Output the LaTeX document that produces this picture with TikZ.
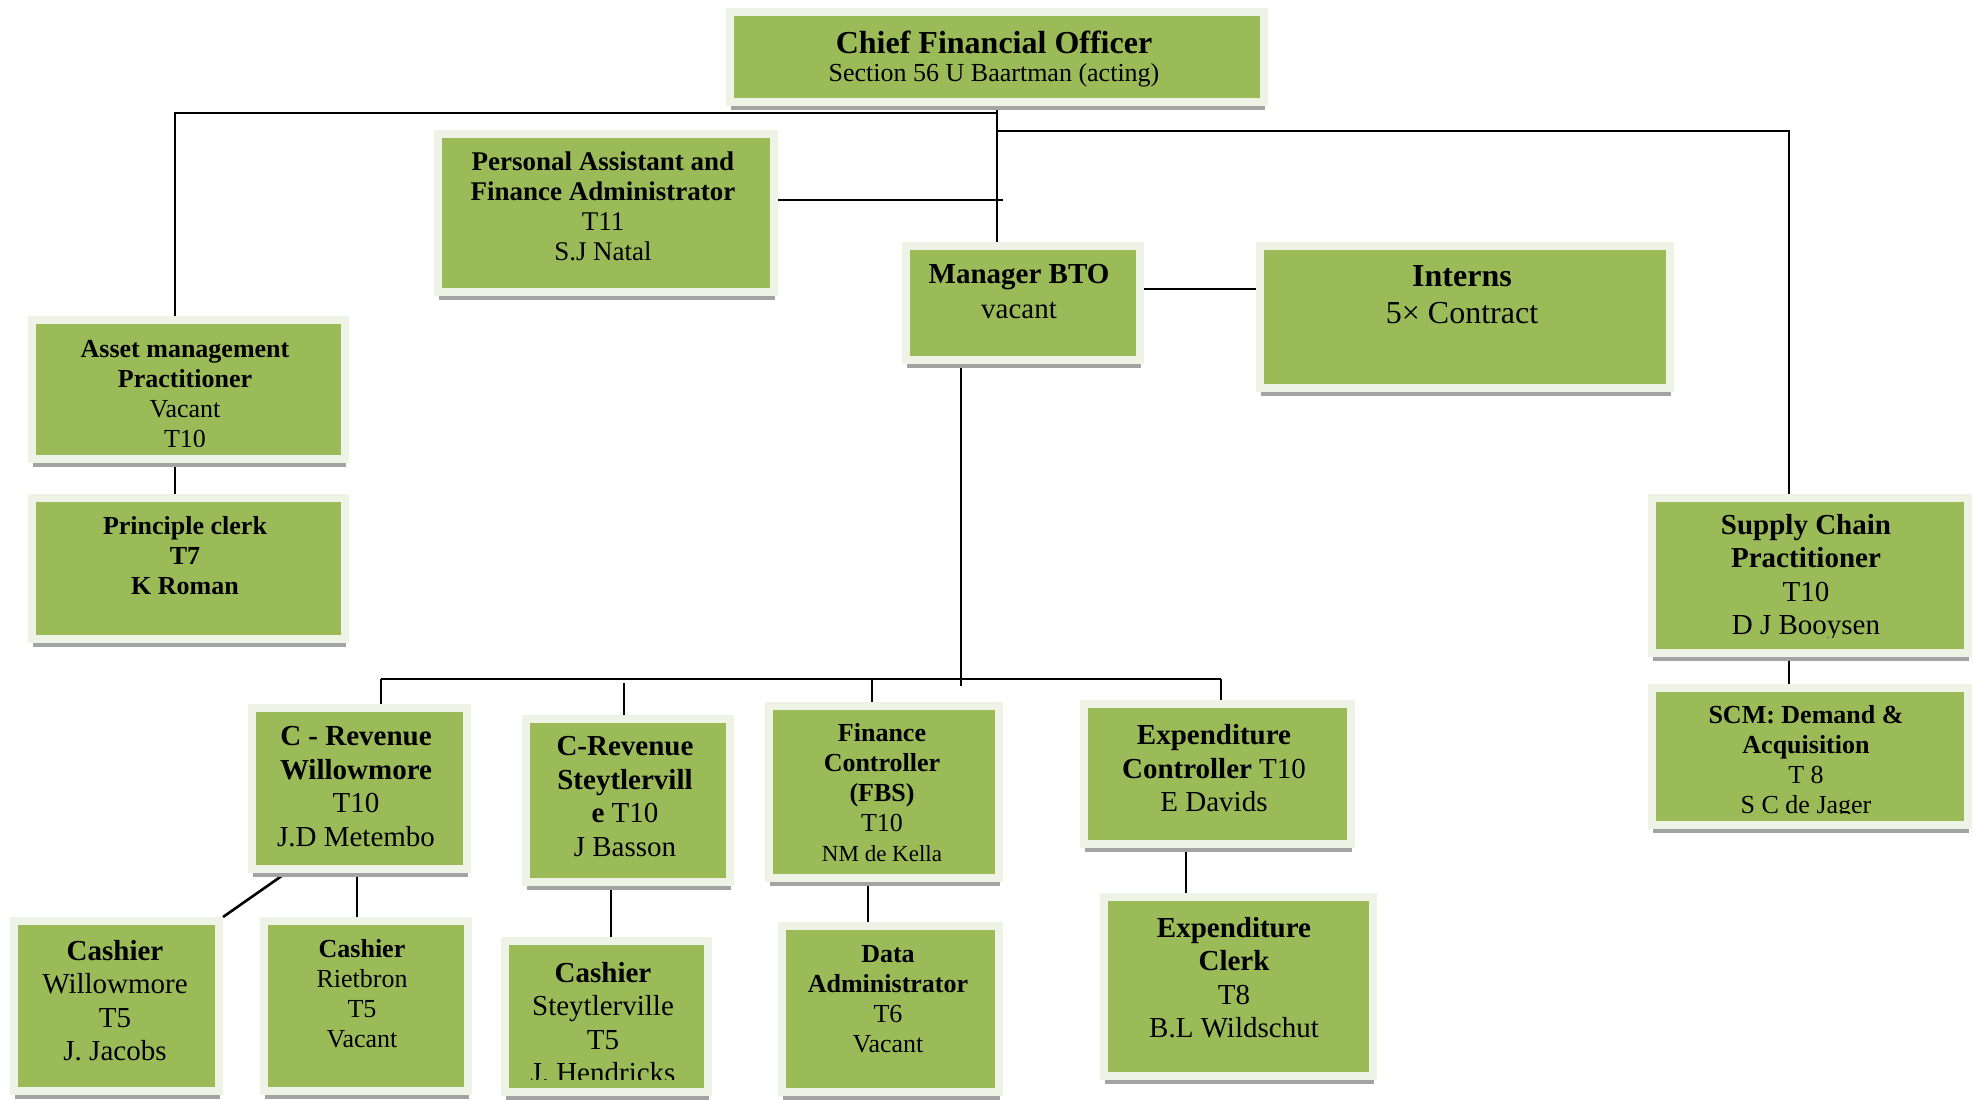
\documentclass[tikz,border=0pt]{standalone}
\usepackage{fontspec}
\setmainfont{Liberation Serif}
\usetikzlibrary{shadows,calc}
\pgfdeclarelayer{background}
\pgfsetlayers{background,main}
\definecolor{boxgreen}{HTML}{9BBB59}
\definecolor{boxframe}{HTML}{EFF3E6}
\definecolor{boxshadow}{HTML}{A3A3A3}
\newcommand{\fsz}[2]{\fontsize{#1}{#2}\selectfont}
\tikzset{
  orgbox/.style={rectangle, fill=boxgreen, draw=boxframe, line width=8pt, inner sep=0pt,
    drop shadow={shadow xshift=1pt, shadow yshift=-8pt, fill=boxshadow, opacity=1}},
  orgtxt/.style={align=center, inner sep=0pt, text=black},
  link/.style={draw=black, line width=2.6pt},
}
\newcommand{\mkbox}[5]{\node[orgbox, minimum width={#4-#2-8}, minimum height={#5-#3-12}] (#1) at ({(#2+#4)/2},{(#3+#5-4)/2}) {};}
\begin{document}
\begin{tikzpicture}[x=1pt,y=-1pt]
\useasboundingbox (0,0) rectangle (1973,1100);
% boxes
\mkbox{cfo}{726}{8}{1268}{110}
\mkbox{pa}{434}{130}{778}{300}
\mkbox{mgr}{902}{242}{1144}{368}
\mkbox{int}{1256}{242}{1674}{396}
\mkbox{asset}{28}{316}{349}{467}
\mkbox{pc}{28}{494}{349}{647}
\mkbox{sup}{1648}{494}{1972}{661}
\mkbox{scm}{1648}{684}{1972}{833}
\mkbox{crw}{248}{704}{471}{877}
\mkbox{crs}{522}{715}{734}{890}
\mkbox{fc}{765}{702}{1003}{886}
\mkbox{exc}{1080}{700}{1355}{852}
\mkbox{ecl}{1100}{893}{1377}{1084}
\mkbox{cw}{10}{917}{223}{1099}
\mkbox{cr}{260}{917}{472}{1099}
\mkbox{cs}{501}{937}{712}{1100}
\mkbox{da}{778}{922}{1003}{1100}
% texts
\node[orgtxt, font=\fsz{32}{36}] (cfo-t1) at (994,42) {\textbf{Chief Financial Officer}};
\node[orgtxt, font=\fsz{26}{30}] (cfo-t2) at (994,75.5) {Section 56 U Baartman (acting)};
\node[orgtxt, font=\fsz{27}{30}] (pa-t) at (603,206.5) {\textbf{Personal Assistant and}\\\textbf{Finance Administrator}\\T11\\S.J Natal};
\node[orgtxt, font=\fsz{29}{35}] (mgr-t) at (1019,291.5) {\textbf{Manager BTO}\\vacant};
\node[orgtxt, font=\fsz{32}{37}] (int-t) at (1462,294.5) {\textbf{Interns}\\5× Contract};
\begin{scope}
\clip (30,320) rectangle (347,446);
\node[orgtxt, font=\fsz{26}{30}] (asset-t) at (185,394) {\textbf{Asset management}\\\textbf{Practitioner}\\Vacant\\T10};
\end{scope}
\node[orgtxt, font=\fsz{26}{30}] (pc-t) at (185,556) {\textbf{Principle clerk}\\\textbf{T7}\\\textbf{K Roman}};
\begin{scope}
\clip (1650,498) rectangle (1970,637);
\node[orgtxt, font=\fsz{29}{33.5}] (sup-t) at (1806,577.5) {\textbf{Supply Chain}\\\textbf{Practitioner}\\T10\\D J Booysen};
\end{scope}
\begin{scope}
\clip (1650,688) rectangle (1970,813);
\node[orgtxt, font=\fsz{26}{30}] (scm-t) at (1806,762) {\textbf{SCM: Demand \&}\\\textbf{Acquisition}\\T 8\\S C de Jager};
\end{scope}
\node[orgtxt, font=\fsz{29}{33.5}] (crw-t) at (356,786.5) {\textbf{C - Revenue}\\\textbf{Willowmore}\\T10\\J.D Metembo};
\node[orgtxt, font=\fsz{29}{33.5}] (crs-t) at (625,796.5) {\textbf{C-Revenue}\\\textbf{Steytlervill}\\\textbf{e} T10\\J Basson};
\node[orgtxt, font=\fsz{26}{30}] (fc-t) at (882,792.5) {\textbf{Finance}\\\textbf{Controller}\\\textbf{(FBS)}\\T10\\{\fsz{23}{30}NM de Kella}};
\node[orgtxt, font=\fsz{29}{33.5}] (exc-t) at (1214,768.5) {\textbf{Expenditure}\\\textbf{Controller} T10\\E Davids};
\node[orgtxt, font=\fsz{29}{33.5}] (ecl-t) at (1234,977.5) {\textbf{Expenditure}\\\textbf{Clerk}\\T8\\B.L Wildschut};
\node[orgtxt, font=\fsz{29}{33.5}] (cw-t) at (115,1000.5) {\textbf{Cashier}\\Willowmore\\T5\\J. Jacobs};
\node[orgtxt, font=\fsz{26}{30}] (cr-t) at (362,994) {\textbf{Cashier}\\Rietbron\\T5\\Vacant};
\begin{scope}
\clip (505,941) rectangle (708,1079);
\node[orgtxt, font=\fsz{29}{33.5}] (cs-t) at (603,1022.5) {\textbf{Cashier}\\Steytlerville\\T5\\J. Hendricks};
\end{scope}
\node[orgtxt, font=\fsz{26}{30}] (da-t) at (888,999) {\textbf{Data}\\\textbf{Administrator}\\T6\\Vacant};
% connectors
\coordinate (busL) at (175,113);
\coordinate (busR) at (1789,131);
\coordinate (paj) at (1003,200);
\coordinate (itj) at (0,289);
\coordinate (mb) at (961,686);
\coordinate (bl) at (381,679);
\coordinate (br) at (1221,679);
\coordinate (crsj) at (624,683);
\coordinate (fcj) at (872,679);
\coordinate (xcr) at (357,0);
\coordinate (xcs) at (611,0);
\coordinate (xda) at (868,0);
\coordinate (xec) at (1186,0);
\begin{pgfonlayer}{background}
\fill[white] (0,0) rectangle (1973,1100);
\draw[link] (cfo.south) -- (cfo.south |- mgr.north);
\draw[link] (cfo.south |- busL) -- (busL) -- (busL |- asset.north);
\draw[link] (cfo.south |- busR) -- (busR) -- (busR |- sup.north);
\draw[link] (pa.east |- paj) -- (paj);
\draw[link] (mgr.east |- itj) -- (int.west |- itj);
\draw[link] (mgr.south -| mb) -- (mb);
\draw[link] (bl) -- (br);
\draw[link] (bl) -- (bl |- crw.north);
\draw[link] (crsj) -- (crsj |- crs.north);
\draw[link] (fcj) -- (fcj |- fc.north);
\draw[link] (br) -- (br |- exc.north);
\draw[link] (asset.south -| busL) -- (pc.north -| busL);
\draw[link] (sup.south -| busR) -- (scm.north -| busR);
\draw[link] ($(crw.south west)!0.17!(crw.south east)$) -- (cw.north east);
\draw[link] (crw.south -| xcr) -- (cr.north -| xcr);
\draw[link] (crs.south -| xcs) -- (cs.north -| xcs);
\draw[link] (fc.south -| xda) -- (da.north -| xda);
\draw[link] (exc.south -| xec) -- (ecl.north -| xec);
\end{pgfonlayer}
\end{tikzpicture}
\end{document}
